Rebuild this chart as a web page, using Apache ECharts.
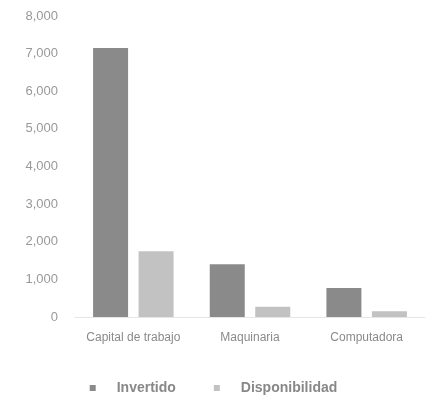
<!DOCTYPE html>
<html>
<head>
<meta charset="utf-8">
<script src="https://cdn.jsdelivr.net/npm/echarts@6/dist/echarts.min.js"></script>
<style>html,body{margin:0;padding:0;background:#fff}#c{width:427px;height:400px}</style>
</head>
<body>
<div id="c"></div>
<script>
var categories = ['Capital de trabajo', 'Maquinaria', 'Computadora'];
var invertido = [7150, 1400, 770];
var disponibilidad = [1750, 270, 150];
var seriesNames = ['Invertido', 'Disponibilidad'];

var chart = echarts.init(document.getElementById('c'));
chart.setOption({
  animation: false,
  color: ['#8a8a8a', '#c2c2c2'],
  grid: { left: 75, right: 2, top: 16, bottom: 83 },
  legend: {
    bottom: 5, left: 'center', padding: 0,
    itemWidth: 6, itemHeight: 6, itemGap: 38,
    icon: 'rect',
    textStyle: { color: '#888', fontSize: 14, fontWeight: 'bold', fontFamily: 'Liberation Sans', padding: [0, 0, 0, 16] },
    data: seriesNames
  },
  xAxis: {
    type: 'category', data: categories,
    axisLine: { lineStyle: { color: '#e6e6e6' } },
    axisTick: { show: false },
    axisLabel: { color: '#8a8a8a', fontSize: 12, margin: 15, interval: 0, fontFamily: 'Liberation Sans' }
  },
  yAxis: {
    type: 'value', min: 0, max: 8000, interval: 1000,
    axisLine: { show: false }, axisTick: { show: false },
    splitLine: { show: false },
    axisLabel: {
      color: '#999', fontSize: 13, margin: 17, fontFamily: 'Liberation Sans',
      formatter: function (v) { return v === 0 ? '0' : v.toLocaleString('en-US'); }
    }
  },
  series: [
    { name: seriesNames[0], type: 'bar', data: invertido, barWidth: 35, barGap: '30%' },
    { name: seriesNames[1], type: 'bar', data: disponibilidad, barWidth: 35 }
  ]
});
</script>
</body>
</html>
